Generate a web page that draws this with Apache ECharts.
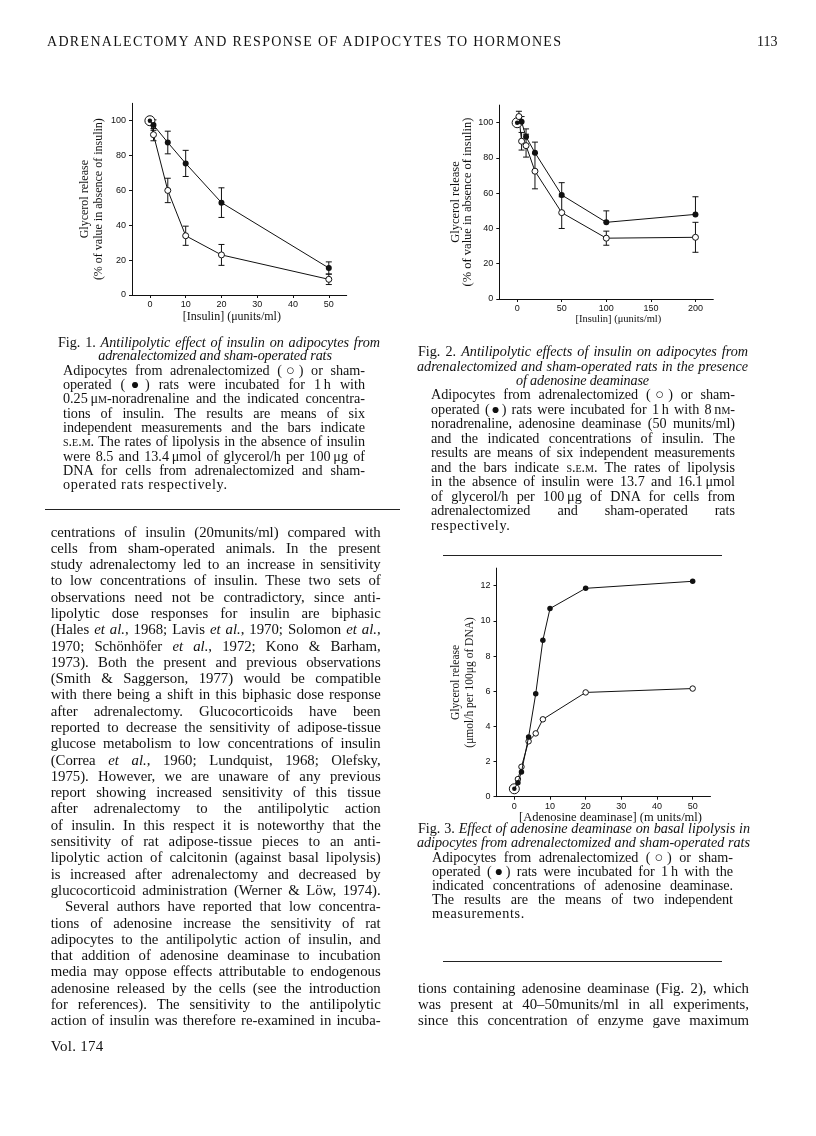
<!DOCTYPE html>
<html>
<head>
<meta charset="utf-8">
<title>Adrenalectomy and response of adipocytes to hormones</title>
<script src="https://cdn.jsdelivr.net/npm/echarts@6.0.0/dist/echarts.min.js"></script>
<style>
  html, body { margin: 0; padding: 0; background: #fff; }
  #page { position: relative; width: 816px; height: 1136px; overflow: hidden; }
  #chart { position: absolute; left: 0; top: 0; width: 816px; height: 1136px; }
  .ln { position: absolute; font-family: "Liberation Serif", "DejaVu Serif", serif; color: #111; }
  .ln span.in { white-space: nowrap; }
  .j { text-align: justify; text-align-last: justify; }
  .c { text-align: center; }
  .sc { font-variant: small-caps; }
  .rule { position: absolute; height: 1px; background: #222; }
</style>
</head>
<body>
<div id="page">
  <div id="chart"></div>
</div>
<script>
// ---- Fig. 1: insulin, no adenosine deaminase ----
const fig1X = [0, 1, 5, 10, 20, 50];
const fig1Sham = [100, 97.5, 87.5, 75.5, 53, 15.5];
const fig1ShamErr = [0, 3, 6.5, 7.5, 8.5, 3.5];
const fig1Adx = [100, 92, 60, 34, 23, 9];
const fig1AdxErr = [0, 3.5, 7, 5.5, 6, 3];
const fig1XTicks = [0, 10, 20, 30, 40, 50];
const fig1YTicks = [0, 20, 40, 60, 80, 100];

// ---- Fig. 2: insulin + adenosine deaminase ----
const fig2ShamX = [0, 5, 10, 20, 50, 100, 200];
const fig2Sham = [100, 100.5, 92, 83, 59, 43.5, 48];
const fig2ShamErr = [0, 3, 4.5, 6, 7, 6.5, 10];
const fig2AdxX = [0, 2, 5, 10, 20, 50, 100, 200];
const fig2Adx = [100, 103.5, 89.5, 87, 72.5, 49, 34.5, 35];
const fig2AdxErr = [0, 3, 5, 6.5, 10, 9, 4, 8.5];
const fig2XTicks = [0, 50, 100, 150, 200];
const fig2YTicks = [0, 20, 40, 60, 80, 100];

// ---- Fig. 3: adenosine deaminase, basal lipolysis ----
const fig3ShamX = [0, 1, 2, 4, 6, 8, 10, 20, 50];
const fig3Sham = [0.45, 0.8, 1.4, 3.4, 5.85, 8.9, 10.7, 11.85, 12.25];
const fig3AdxX = [0, 1, 2, 4, 6, 8, 20, 50];
const fig3Adx = [0.45, 1.0, 1.7, 3.15, 3.6, 4.4, 5.93, 6.15];
const fig3XTicks = [0, 10, 20, 30, 40, 50];
const fig3YTicks = [0, 2, 4, 6, 8, 10, 12];

const INK = '#111';
const SERIF = '"Liberation Serif", "DejaVu Serif", serif';
const SANS = '"Liberation Sans", Arial, sans-serif';

function pairs(xs, ys) {
  return xs.map((x, i) => [x, ys[i]]);
}
// [x, low, high, upOnly] rows for the error bars
function errRows(xs, ys, errs, upOnly) {
  const out = [];
  xs.forEach((x, i) => {
    if (!errs[i]) return;
    out.push([x, upOnly ? ys[i] : ys[i] - errs[i], ys[i] + errs[i], upOnly ? 1 : 0]);
  });
  return out;
}

function errRender(params, api) {
  const x = api.value(0);
  const lo = api.coord([x, api.value(1)]);
  const hi = api.coord([x, api.value(2)]);
  const w = 3;
  const st = { stroke: INK, lineWidth: 1 };
  const kids = [
    { type: 'line', shape: { x1: lo[0], y1: lo[1], x2: hi[0], y2: hi[1] }, style: st },
    { type: 'line', shape: { x1: hi[0] - w, y1: hi[1], x2: hi[0] + w, y2: hi[1] }, style: st }
  ];
  if (!api.value(3)) {
    kids.push({ type: 'line', shape: { x1: lo[0] - w, y1: lo[1], x2: lo[0] + w, y2: lo[1] }, style: st });
  }
  return { type: 'group', children: kids };
}

function xAx(gi, min, max, ticks, name, size, gap, pad) {
  return {
    type: 'value', gridIndex: gi, min: min, max: max,
    name: name, nameLocation: 'middle', nameGap: gap,
    nameTextStyle: { fontFamily: SERIF, fontSize: size, color: INK, padding: pad },
    axisLine: { onZero: false, lineStyle: { color: INK, width: 1 } },
    axisTick: { length: 3, lineStyle: { color: INK }, customValues: ticks },
    axisLabel: { customValues: ticks, color: INK, fontFamily: SANS, fontSize: 9, margin: 5 },
    splitLine: { show: false }
  };
}
function yAx(gi, min, max, ticks, name, size, lh, gap) {
  return {
    type: 'value', gridIndex: gi, min: min, max: max,
    name: name, nameLocation: 'middle', nameGap: gap,
    nameTextStyle: { fontFamily: SERIF, fontSize: size, lineHeight: lh, color: INK },
    axisLine: { show: true, onZero: false, lineStyle: { color: INK, width: 1 } },
    axisTick: { show: true, length: 3, lineStyle: { color: INK }, customValues: ticks },
    axisLabel: { customValues: ticks, color: INK, fontFamily: SANS, fontSize: 9, margin: 6 },
    splitLine: { show: false }
  };
}

function lineSeries(gi, data, open, ring, size) {
  return {
    type: 'line', xAxisIndex: gi, yAxisIndex: gi, data: data,
    symbol: 'circle',
    symbolSize: (v, p) => p.dataIndex === 0 ? ring : size,
    lineStyle: { color: INK, width: 1 },
    itemStyle: open ? { color: '#fff', borderColor: INK, borderWidth: 1 } : { color: INK, borderColor: INK, borderWidth: 0 },
    z: open ? 3 : 4,
    silent: true
  };
}
function errSeries(gi, rows) {
  return {
    type: 'custom', xAxisIndex: gi, yAxisIndex: gi, data: rows,
    encode: { x: 0, y: [1, 2] }, renderItem: errRender, z: 2, silent: true
  };
}

const chart = echarts.init(document.getElementById('chart'));
chart.setOption({
  animation: false,
  backgroundColor: 'transparent',
  grid: [
    { left: 132, top: 103.3, width: 214.7, height: 191.7 },
    { left: 499.3, top: 105.1, width: 214, height: 193.9 },
    { left: 496.5, top: 568.1, width: 214, height: 228.6 }
  ],
  xAxis: [
    xAx(0, -5, 55, fig1XTicks, '[Insulin] (\u03bcunits/ml)', 12, 16, [0, 15, 0, 0]),
    xAx(1, -20, 220, fig2XTicks, '[Insulin] (\u03bcunits/ml)', 10.5, 15, [0, 0, 0, 24]),
    xAx(2, -5, 55, fig3XTicks, '[Adenosine deaminase] (m units/ml)', 12.5, 14, [0, 0, 0, 14])
  ],
  yAxis: [
    yAx(0, 0, 110, fig1YTicks, 'Glycerol release\n(% of value in absence of insulin)', 12, 14, 26),
    yAx(1, 0, 110, fig2YTicks, 'Glycerol release\n(% of value in absence of insulin)', 12.5, 12, 20),
    yAx(2, 0, 13, fig3YTicks, 'Glycerol release\n(\u03bcmol/h per 100\u03bcg of DNA)', 11.5, 13.5, 14)
  ],
  series: [
    errSeries(0, errRows(fig1X, fig1Adx, fig1AdxErr, false)),
    errSeries(0, errRows(fig1X, fig1Sham, fig1ShamErr, false)),
    lineSeries(0, pairs(fig1X, fig1Adx), true, 10, 6),
    lineSeries(0, pairs(fig1X, fig1Sham), false, 4.5, 6),

    errSeries(1, errRows(fig2AdxX, fig2Adx, fig2AdxErr, false)),
    errSeries(1, errRows(fig2ShamX, fig2Sham, fig2ShamErr, true)),
    lineSeries(1, pairs(fig2AdxX, fig2Adx), true, 10, 6),
    lineSeries(1, pairs(fig2ShamX, fig2Sham), false, 4.5, 6),

    lineSeries(2, pairs(fig3AdxX, fig3Adx), true, 10, 5.5),
    lineSeries(2, pairs(fig3ShamX, fig3Sham), false, 4.5, 5.5)
  ]
});

// ---------- page text ----------
const page = document.getElementById('page');
// one typeset line; ls = wanted letter spacing, clamped so the line never wraps
function addLine(html, x, w, yc, size, cls, lh, ls) {
  const d = document.createElement('div');
  d.className = 'ln ' + (cls || '');
  d.style.left = x + 'px';
  d.style.width = w + 'px';
  d.style.fontSize = size + 'px';
  d.style.lineHeight = lh + 'px';
  d.style.top = (yc - lh / 2) + 'px';
  d.innerHTML = '<span class="in">' + html + '</span>';
  page.appendChild(d);
  const sp = d.firstChild;
  const nat = sp.getBoundingClientRect().width;
  const n = sp.textContent.length;
  let s = ls || 0;
  if (s === 'fill') s = (w - nat) / (n - 1);
  else s = Math.min(s, (w - nat - 1.5) / n);
  d.style.letterSpacing = s + 'px';
  if (cls === 'j') sp.style.whiteSpace = 'normal';
  return d;
}
function addBlock(lines, x, w, y0, step, size, lastLeft, ls) {
  lines.forEach((t, i) => {
    const last = lastLeft && i === lines.length - 1;
    addLine(t, x, w, y0 + i * step, size, last ? '' : 'j', step, last ? ls * 0.7 : ls);
  });
}
function rule(x, y, w) {
  const r = document.createElement('div');
  r.className = 'rule';
  r.style.left = x + 'px'; r.style.top = y + 'px'; r.style.width = w + 'px';
  page.appendChild(r);
}

const OPEN = '(\u25cb)', DOT = '(\u25cf)';
const CAP = 14.2, CAPLS = 0.9, TITLELS = -0.15;
const BODY = 14.8, BODYLS = 0.4;

// running head
addLine('ADRENALECTOMY AND RESPONSE OF ADIPOCYTES TO HORMONES', 47, 514, 42, 14, '', 16, 'fill');
addLine('113', 757, 22, 42, 14, '', 16, 0.3);

// Fig. 1 caption
addLine('Fig. 1. <i>Antilipolytic effect of insulin on adipocytes from</i>', 58, 322, 341.7, CAP, 'j', 14, CAPLS);
addLine('<i>adrenalectomized and sham-operated rats</i>', 54, 322, 355, CAP, 'c', 14, TITLELS);
addBlock([
  'Adipocytes from adrenalectomized ' + OPEN + ' or sham-',
  'operated ' + DOT + ' rats were incubated for 1\u2009h with',
  '0.25\u2009\u03bc<span class="sc">m</span>-noradrenaline and the indicated concentra-',
  'tions of insulin. The results are means of six',
  'independent measurements and the bars indicate',
  '<span class="sc">s.e.m.</span> The rates of lipolysis in the absence of insulin',
  'were 8.5 and 13.4\u2009\u03bcmol of glycerol/h per 100\u2009\u03bcg of',
  'DNA for cells from adrenalectomized and sham-',
  'operated rats respectively.'
], 63, 302, 370, 14.3, CAP, true, CAPLS);
rule(45, 509, 355);

// Fig. 2 caption
addLine('Fig. 2. <i>Antilipolytic effects of insulin on adipocytes from</i>', 418, 330, 351, CAP, 'j', 14, CAPLS);
addLine('<i>adrenalectomized and sham-operated rats in the presence</i>', 417, 331, 365.5, CAP, 'j', 14, CAPLS);
addLine('<i>of adenosine deaminase</i>', 417, 331, 380, CAP, 'c', 14, TITLELS);
addBlock([
  'Adipocytes from adrenalectomized ' + OPEN + ' or sham-',
  'operated ' + DOT + ' rats were incubated for 1\u2009h with 8\u2009n<span class="sc">m</span>-',
  'noradrenaline, adenosine deaminase (50 munits/ml)',
  'and the indicated concentrations of insulin. The',
  'results are means of six independent measurements',
  'and the bars indicate <span class="sc">s.e.m.</span> The rates of lipolysis',
  'in the absence of insulin were 13.7 and 16.1\u2009\u03bcmol',
  'of glycerol/h per 100\u2009\u03bcg of DNA for cells from',
  'adrenalectomized and sham-operated rats',
  'respectively.'
], 431, 304, 394.3, 14.5, CAP, true, CAPLS);
rule(443, 555, 279);

// Fig. 3 caption
addLine('Fig. 3. <i>Effect of adenosine deaminase on basal lipolysis in</i>', 418, 332, 828.3, CAP, 'j', 14, CAPLS);
addLine('<i>adipocytes from adrenalectomized and sham-operated rats</i>', 417, 333, 842.3, CAP, 'j', 14, CAPLS);
addBlock([
  'Adipocytes from adrenalectomized ' + OPEN + ' or sham-',
  'operated ' + DOT + ' rats were incubated for 1\u2009h with the',
  'indicated concentrations of adenosine deaminase.',
  'The results are the means of two independent',
  'measurements.'
], 432, 301, 856.7, 14.2, CAP, true, CAPLS);
rule(443, 961, 279);

// left column body
const LSTEP = 16.29;
addBlock([
  'centrations of insulin (20munits/ml) compared with',
  'cells from sham-operated animals. In the present',
  'study adrenalectomy led to an increase in sensitivity',
  'to low concentrations of insulin. These two sets of',
  'observations need not be contradictory, since anti-',
  'lipolytic dose responses for insulin are biphasic',
  '(Hales <i>et al.</i>, 1968; Lavis <i>et al.</i>, 1970; Solomon <i>et al.</i>,',
  '1970; Sch\u00f6nh\u00f6fer <i>et al.</i>, 1972; Kono &amp; Barham,',
  '1973). Both the present and previous observations',
  '(Smith &amp; Saggerson, 1977) would be compatible',
  'with there being a shift in this biphasic dose response',
  'after adrenalectomy. Glucocorticoids have been',
  'reported to decrease the sensitivity of adipose-tissue',
  'glucose metabolism to low concentrations of insulin',
  '(Correa <i>et al.</i>, 1960; Lundquist, 1968; Olefsky,',
  '1975). However, we are unaware of any previous',
  'report showing increased sensitivity of this tissue',
  'after adrenalectomy to the antilipolytic action',
  'of insulin. In this respect it is noteworthy that the',
  'sensitivity of rat adipose-tissue pieces to an anti-',
  'lipolytic action of calcitonin (against basal lipolysis)',
  'is increased after adrenalectomy and decreased by',
  'glucocorticoid administration (Werner &amp; L\u00f6w, 1974).'
], 50.7, 330, 531.7, LSTEP, BODY, false, BODYLS);
addLine('Several authors have reported that low concentra-', 65, 315.7, 531.7 + 23 * LSTEP, BODY, 'j', 16, BODYLS);
addBlock([
  'tions of adenosine increase the sensitivity of rat',
  'adipocytes to the antilipolytic action of insulin, and',
  'that addition of adenosine deaminase to incubation',
  'media may oppose effects attributable to endogenous',
  'adenosine released by the cells (see the introduction',
  'for references). The sensitivity to the antilipolytic',
  'action of insulin was therefore re-examined in incuba-'
], 50.7, 330, 531.7 + 24 * LSTEP, LSTEP, BODY, false, BODYLS);
addLine('Vol. 174', 50.7, 100, 1045.7, 15, '', 16, 0.3);

// right column body
addBlock([
  'tions containing adenosine deaminase (Fig. 2), which',
  'was present at 40\u201350munits/ml in all experiments,',
  'since this concentration of enzyme gave maximum'
], 418, 331, 989, 15.9, BODY, false, BODYLS);
</script>
</body>
</html>
